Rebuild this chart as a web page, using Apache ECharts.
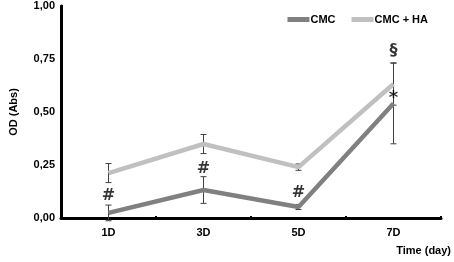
<!DOCTYPE html>
<html><head><meta charset="utf-8">
<script src="https://cdn.jsdelivr.net/npm/echarts@6/dist/echarts.min.js"></script>
<style>html,body{margin:0;padding:0;background:#fff}#c{width:454px;height:262px}</style>
</head><body><div id="c"></div>
<script>
var categories = ['1D', '3D', '5D', '7D'];
var cmc = [0.024, 0.132, 0.052, 0.54];
var cmcErr = [0.037, 0.063, 0.012, 0.19];
var cmcHa = [0.212, 0.349, 0.24, 0.632];
var cmcHaErr = [0.045, 0.045, 0.015, 0.10];
var yTicks = [0, 0.25, 0.5, 0.75, 1.0];
var annotations = [
  ['1D', 0.104, '#'], ['3D', 0.23, '#'], ['5D', 0.12, '#'],
  ['7D', 0.79, '§'], ['7D', 0.565, '*']
];

var FONT = 'Liberation Sans, Arial, sans-serif';
var chart = echarts.init(document.getElementById('c'));

function errSeries(vals, errs, name) {
  return {
    type: 'custom', name: name + ' err', silent: true, z: 1,
    data: vals.map(function (v, i) { return [i, v - errs[i], v + errs[i]]; }),
    renderItem: function (params, api) {
      var lo = api.coord([api.value(0), api.value(1)]);
      var hi = api.coord([api.value(0), api.value(2)]);
      var w = 3;
      var st = { stroke: '#404040', lineWidth: 1 };
      return { type: 'group', children: [
        { type: 'line', shape: { x1: lo[0], y1: lo[1], x2: hi[0], y2: hi[1] }, style: st },
        { type: 'line', shape: { x1: lo[0] - w, y1: lo[1], x2: lo[0] + w, y2: lo[1] }, style: st },
        { type: 'line', shape: { x1: hi[0] - w, y1: hi[1], x2: hi[0] + w, y2: hi[1] }, style: st }
      ]};
    }
  };
}

chart.setOption({
  animation: false,
  grid: { left: 55, right: 13, top: 6, bottom: 44 },
  legend: {
    data: ['CMC', 'CMC + HA'], right: 21, top: 9,
    icon: 'rect', itemWidth: 22, itemHeight: 5, itemGap: 16,
    textStyle: { fontFamily: FONT, fontWeight: 'bold', fontSize: 11, color: '#000', padding: [0,0,0,-4] }
  },
  xAxis: {
    type: 'category', data: categories, boundaryGap: true,
    axisLine: { lineStyle: { color: '#000', width: 3 } },
    axisTick: { show: true, inside: true, length: 2, lineStyle: { color: '#000', width: 2 } },
    axisLabel: { fontFamily: FONT, fontWeight: 'bold', fontSize: 11, color: '#000', margin: 9 },
    splitLine: { show: false }
  },
  yAxis: {
    type: 'value', min: 0, max: 1, interval: 0.25,
    name: 'OD (Abs)', nameLocation: 'middle', nameGap: 42, nameRotate: 90,
    nameTextStyle: { fontFamily: FONT, fontWeight: 'bold', fontSize: 11, color: '#000' },
    axisLine: { show: true, lineStyle: { color: '#000', width: 3 } },
    axisTick: { show: true, inside: true, length: 2, lineStyle: { color: '#000', width: 2 } },
    axisLabel: { fontFamily: FONT, fontWeight: 'bold', fontSize: 11, color: '#000', margin: 6,
      formatter: function (v) { return v.toFixed(2).replace('.', ','); } },
    splitLine: { show: false }
  },
  graphic: [{ type: 'text', right: 3, top: 245,
    style: { text: 'Time (day)', fontFamily: FONT, fontWeight: 'bold', fontSize: 11, fill: '#000' } }],
  series: [
    errSeries(cmc, cmcErr, 'CMC'),
    errSeries(cmcHa, cmcHaErr, 'CMC + HA'),
    { name: 'CMC', type: 'line', data: cmc, symbol: 'none', z: 3,
      lineStyle: { color: '#808080', width: 4.5 }, itemStyle: { color: '#808080' } },
    { name: 'CMC + HA', type: 'line', data: cmcHa, symbol: 'none', z: 2,
      lineStyle: { color: '#c0c0c0', width: 4.5 }, itemStyle: { color: '#c0c0c0' } },
    { name: 'ann', type: 'scatter', symbolSize: 0, z: 5, silent: true,
      data: annotations.map(function (a) {
        return { value: [a[0], a[1]], label: { formatter: a[2], fontSize: a[2] === '*' ? 18 : 16 } };
      }),
      label: { show: true, position: 'inside', fontFamily: 'DejaVu Sans', fontWeight: 'bold', fontSize: 16, color: '#000' } }
  ]
});
</script></body></html>
